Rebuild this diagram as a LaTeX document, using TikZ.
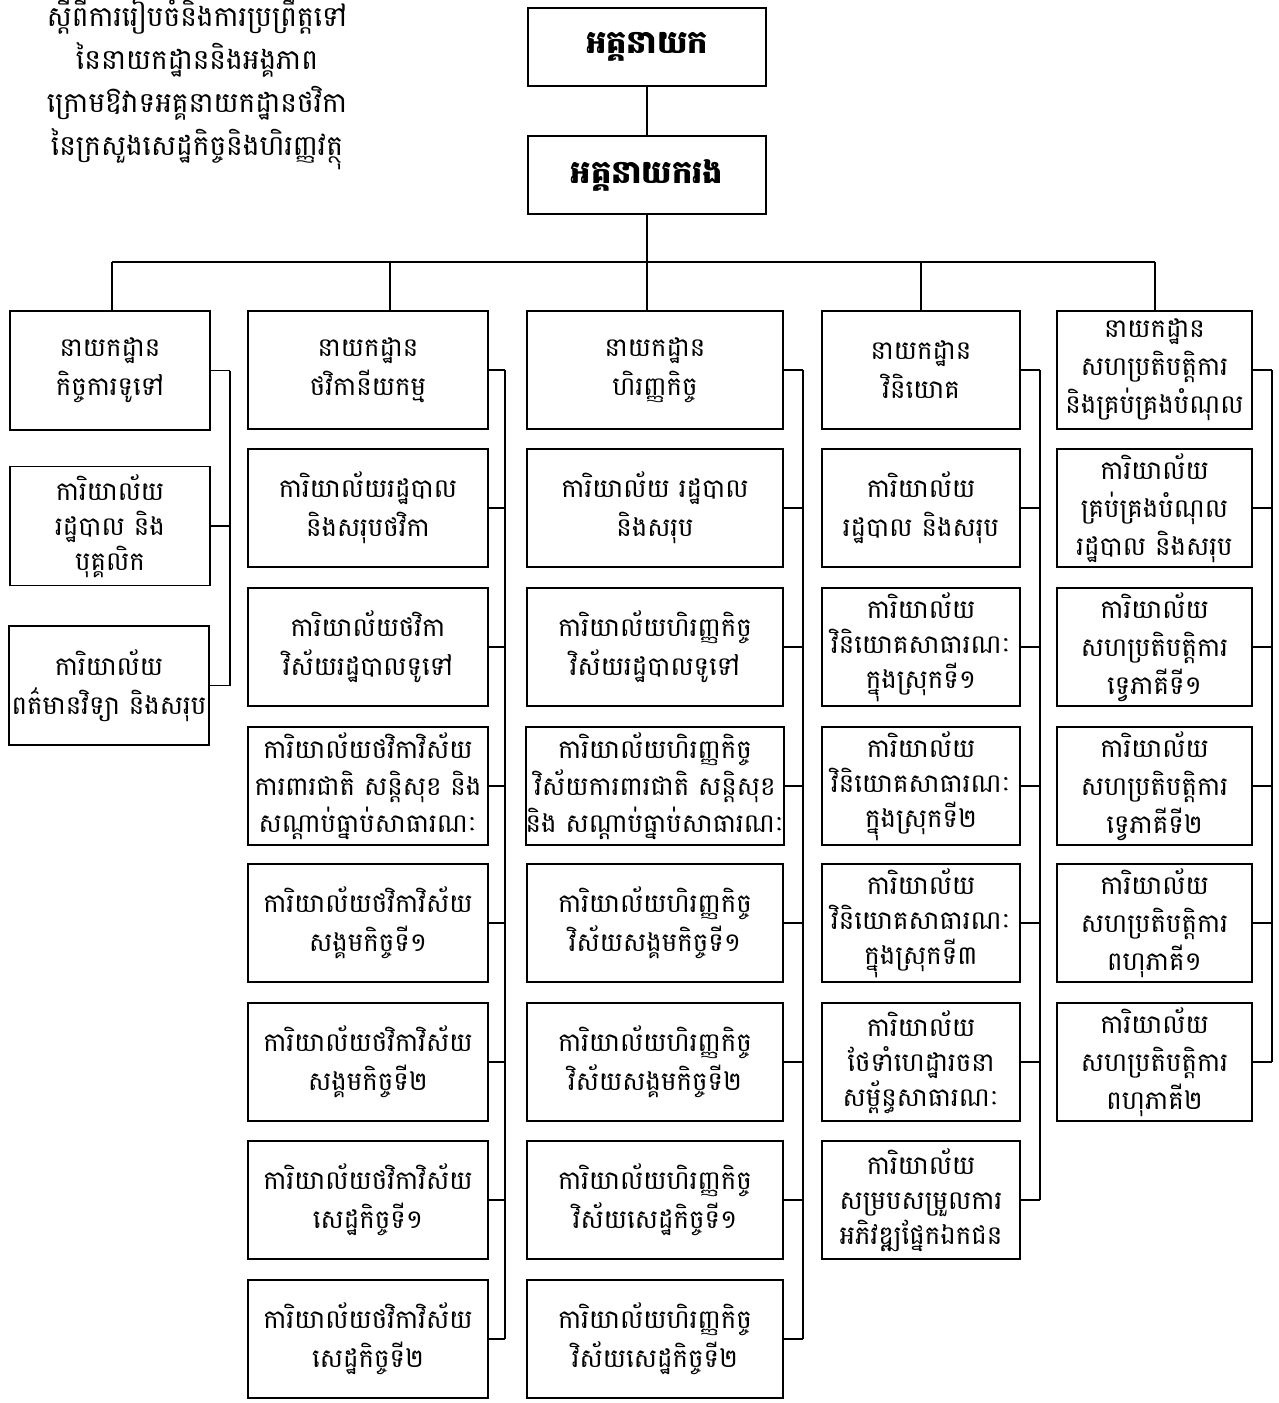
\documentclass[tikz,border=0pt]{standalone}
\usepackage{fontspec}
\newfontfamily\km[Script=Khmer]{Battambang}
\begin{document}
\begin{tikzpicture}[x=0.5pt,y=-0.5pt]
\tikzset{
  bx/.style={draw, line width=0.9pt, align=center, inner sep=0pt, font=\km\fontsize{13}{18.5}\selectfont},
  wide/.style={font=\km\fontsize{13}{19.5}\selectfont},
  tight/.style={font=\km\fontsize{13}{17.5}\selectfont},
  topbx/.style={bx, minimum width=119pt, minimum height=39pt, font=\km\bfseries\fontsize{16}{20}\selectfont},
  cA/.style={bx, minimum width=100pt, minimum height=59.5pt},
  cB/.style={bx, minimum width=120pt, minimum height=59pt},
  cC/.style={bx, minimum width=128pt, minimum height=59pt},
  cD/.style={bx, minimum width=99pt, minimum height=59pt},
  cE/.style={bx, minimum width=97.5pt, minimum height=59pt, font=\km\fontsize{13}{19}\selectfont},
  ln/.style={line width=0.8pt},
}
\useasboundingbox (0,0) rectangle (1279,1403);

% title
\node[align=center, font=\km\fontsize{14}{21.5}\selectfont] (title) at (197,83)
 {ស្តីពីការរៀបចំនិងការប្រព្រឹត្តទៅ\\នៃនាយកដ្ឋាននិងអង្គភាព\\ក្រោមឱវាទអគ្គនាយកដ្ឋានថវិកា\\នៃក្រសួងសេដ្ឋកិច្ចនិងហិរញ្ញវត្ថុ};

% top
\node[topbx] (dg) at (647,47) {អគ្គនាយក};
\node[topbx] (ddg) at (647,175) {អគ្គនាយករង};

% column A
\node[cA, wide] (a1) at (110,370.5) {នាយកដ្ឋាន\\កិច្ចការទូទៅ};
\node[cA, tight] (a2) at (110,526) {ការិយាល័យ\\រដ្ឋបាល និង\\បុគ្គលិក};
\node[cA, wide] (a3) at (109,685.5) {ការិយាល័យ\\ពត៌មានវិទ្យា និងសរុប};

% column B
\node[cB, wide] (b1) at (368,370) {នាយកដ្ឋាន\\ថវិកានីយកម្ម};
\node[cB, wide] (b2) at (368,508) {ការិយាល័យរដ្ឋបាល\\និងសរុបថវិកា};
\node[cB, wide] (b3) at (368,647) {ការិយាល័យថវិកា\\វិស័យរដ្ឋបាលទូទៅ};
\node[cB] (b4) at (368,786) {ការិយាល័យថវិកាវិស័យ\\ការពារជាតិ សន្តិសុខ និង\\សណ្តាប់ធ្នាប់សាធារណៈ};
\node[cB, wide] (b5) at (368,923) {ការិយាល័យថវិកាវិស័យ\\សង្គមកិច្ចទី១};
\node[cB, wide] (b6) at (368,1062) {ការិយាល័យថវិកាវិស័យ\\សង្គមកិច្ចទី២};
\node[cB, wide] (b7) at (368,1200) {ការិយាល័យថវិកាវិស័យ\\សេដ្ឋកិច្ចទី១};
\node[cB, wide] (b8) at (368,1339) {ការិយាល័យថវិកាវិស័យ\\សេដ្ឋកិច្ចទី២};

% column C
\node[cC, wide] (c1) at (655,370) {នាយកដ្ឋាន\\ហិរញ្ញកិច្ច};
\node[cC, wide] (c2) at (655,508) {ការិយាល័យ រដ្ឋបាល\\និងសរុប};
\node[cC, wide] (c3) at (655,647) {ការិយាល័យហិរញ្ញកិច្ច\\វិស័យរដ្ឋបាលទូទៅ};
\node[cC] (c4) at (655,786) {ការិយាល័យហិរញ្ញកិច្ច\\វិស័យការពារជាតិ សន្តិសុខ\\និង សណ្តាប់ធ្នាប់សាធារណៈ};
\node[cC, wide] (c5) at (655,923) {ការិយាល័យហិរញ្ញកិច្ច\\វិស័យសង្គមកិច្ចទី១};
\node[cC, wide] (c6) at (655,1062) {ការិយាល័យហិរញ្ញកិច្ច\\វិស័យសង្គមកិច្ចទី២};
\node[cC, wide] (c7) at (655,1200) {ការិយាល័យហិរញ្ញកិច្ច\\វិស័យសេដ្ឋកិច្ចទី១};
\node[cC, wide] (c8) at (655,1339) {ការិយាល័យហិរញ្ញកិច្ច\\វិស័យសេដ្ឋកិច្ចទី២};

% column D
\node[cD, wide] (d1) at (921,370) {នាយកដ្ឋាន\\វិនិយោគ};
\node[cD, wide] (d2) at (921,508) {ការិយាល័យ\\រដ្ឋបាល និងសរុប};
\node[cD, tight] (d3) at (921,647) {ការិយាល័យ\\វិនិយោគសាធារណៈ\\ក្នុងស្រុកទី១};
\node[cD, tight] (d4) at (921,786) {ការិយាល័យ\\វិនិយោគសាធារណៈ\\ក្នុងស្រុកទី២};
\node[cD, tight] (d5) at (921,923) {ការិយាល័យ\\វិនិយោគសាធារណៈ\\ក្នុងស្រុកទី៣};
\node[cD, tight] (d6) at (921,1062) {ការិយាល័យ\\ថែទាំហេដ្ឋារចនា\\សម្ព័ន្ធសាធារណៈ};
\node[cD, tight] (d7) at (921,1200) {ការិយាល័យ\\សម្របសម្រួលការ\\អភិវឌ្ឍផ្នែកឯកជន};

% column E
\node[cE] (e1) at (1154.5,370) {នាយកដ្ឋាន\\សហប្រតិបត្តិការ\\និងគ្រប់គ្រងបំណុល};
\node[cE] (e2) at (1154.5,508) {ការិយាល័យ\\គ្រប់គ្រងបំណុល\\រដ្ឋបាល និងសរុប};
\node[cE] (e3) at (1154.5,647) {ការិយាល័យ\\សហប្រតិបត្តិការ\\ទ្វេភាគីទី១};
\node[cE] (e4) at (1154.5,786) {ការិយាល័យ\\សហប្រតិបត្តិការ\\ទ្វេភាគីទី២};
\node[cE] (e5) at (1154.5,923) {ការិយាល័យ\\សហប្រតិបត្តិការ\\ពហុភាគី១};
\node[cE] (e6) at (1154.5,1062) {ការិយាល័យ\\សហប្រតិបត្តិការ\\ពហុភាគី២};

% bus
\coordinate (jA) at (112,262);
\coordinate (jB) at (390,262);
\coordinate (jC) at (647,262);
\coordinate (jD) at (921,262);
\coordinate (jE) at (1155,262);
\draw[ln] (dg) -- (ddg);
\draw[ln] (ddg.south) -- (jC);
\draw[ln] (jA) -- (jE);
\draw[ln] (jA) -- (jA |- a1.north);
\draw[ln] (jB) -- (jB |- b1.north);
\draw[ln] (jC) -- (jC |- c1.north);
\draw[ln] (jD) -- (jD |- d1.north);
\draw[ln] (jE) -- (jE |- e1.north);

% spines
\coordinate (sA) at (230,0);
\coordinate (sB) at (505,0);
\coordinate (sC) at (803,0);
\coordinate (sD) at (1040,0);
\coordinate (sE) at (1272,0);
\foreach \n in {a1,a2,a3} \draw[ln] (\n.east) -- (\n.east -| sA);
\foreach \n in {b1,b2,b3,b4,b5,b6,b7,b8} \draw[ln] (\n.east) -- (\n.east -| sB);
\foreach \n in {c1,c2,c3,c4,c5,c6,c7,c8} \draw[ln] (\n.east) -- (\n.east -| sC);
\foreach \n in {d1,d2,d3,d4,d5,d6,d7} \draw[ln] (\n.east) -- (\n.east -| sD);
\foreach \n in {e1,e2,e3,e4,e5,e6} \draw[ln] (\n.east) -- (\n.east -| sE);
\draw[ln] (a1.east -| sA) -- (a3.east -| sA);
\draw[ln] (b1.east -| sB) -- (b8.east -| sB);
\draw[ln] (c1.east -| sC) -- (c8.east -| sC);
\draw[ln] (d1.east -| sD) -- (d7.east -| sD);
\draw[ln] (e1.east -| sE) -- (e6.east -| sE);
\end{tikzpicture}
\end{document}
